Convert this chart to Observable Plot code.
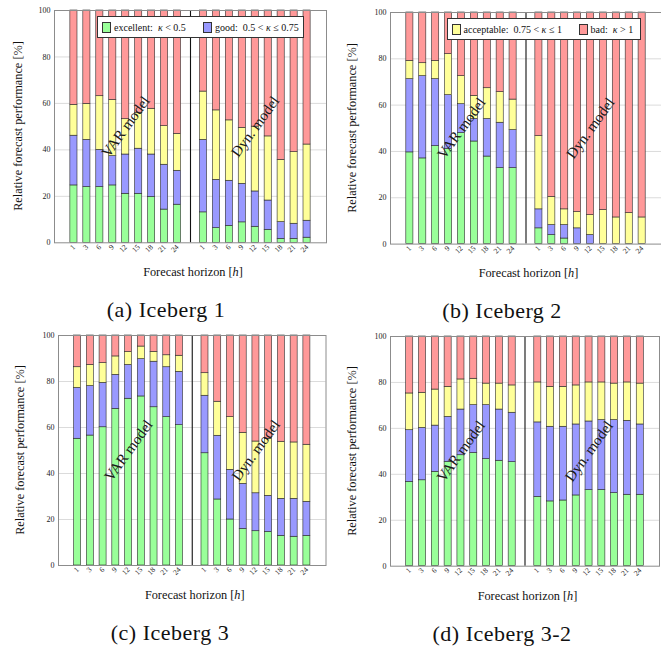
<!DOCTYPE html>
<html>
<head>
<meta charset="utf-8">
<script src="https://cdn.jsdelivr.net/npm/d3@7"></script>
<script src="https://cdn.jsdelivr.net/npm/@observablehq/plot@0.6"></script>
<style>
  html, body { margin: 0; padding: 0; background: #fff; }
  body { position: relative; width: 661px; height: 649px; overflow: hidden;
         font-family: "Liberation Serif", "Times New Roman", serif; color: #111; }
  .abs { position: absolute; white-space: nowrap; }
  .center { transform: translate(-50%, -50%); }
  .ylab { transform: translate(-50%, -50%) rotate(-90deg); font-size: 12.3px; }
  .xlab { font-size: 12.3px; }
  .cap { font-size: 22px; letter-spacing: 0.5px; }
  .legend { border: 1px solid #333; background: #fff; box-sizing: border-box;
            display: flex; align-items: center; font-size: 10px; padding-left: 4px; height: 22px; }
  .legend .sw { width: 9px; height: 11px; border: 1px solid #333; box-sizing: border-box; margin-right: 3px; flex: none; }
  .legend .item { display: flex; align-items: center; flex: none; }
  .legend .txt { white-space: pre; }
</style>
</head>
<body>
<script>
// Forecast horizons (hours) and performance classes
const horizons = ["1", "3", "6", "9", "12", "15", "18", "21", "24"];
const classes = ["excellent", "good", "acceptable", "bad"];
const classColors = ["#99ff99", "#9999ff", "#ffff99", "#ff9999"];
const classLabels = [
  "excellent:  <i>κ</i> &lt; 0.5",
  "good:  0.5 &lt; <i>κ</i> ≤ 0.75",
  "acceptable:  0.75 &lt; <i>κ</i> ≤ 1",
  "bad:  <i>κ</i> &gt; 1"
];

// Iceberg 1 — share of forecasts per class [%]
const ice1VarExcellent  = [24.7, 24.0, 24.0, 24.7, 21.1, 21.1, 19.7, 14.3, 16.4];
const ice1VarGood       = [21.4, 20.3, 16.0, 12.6, 16.9, 19.4, 18.3, 19.3, 14.6];
const ice1VarAcceptable = [13.3, 15.5, 23.1, 24.2, 15.2, 15.5, 19.7, 16.6, 15.9];
const ice1VarBad        = [40.6, 40.2, 36.9, 38.5, 46.8, 44.0, 42.3, 49.8, 53.1];
const ice1DynExcellent  = [13.1, 6.3, 7.3, 8.8, 6.9, 5.6, 1.7, 1.7, 2.2];
const ice1DynGood       = [31.2, 20.8, 19.4, 16.6, 15.2, 12.6, 7.2, 6.5, 7.3];
const ice1DynAcceptable = [20.8, 29.9, 26.0, 24.1, 27.9, 27.6, 26.8, 30.8, 32.8];
const ice1DynBad        = [34.9, 43.0, 47.3, 50.5, 50.0, 54.2, 64.3, 61.0, 57.7];

// Iceberg 2
const ice2VarExcellent  = [39.6, 37.0, 42.3, 41.0, 47.9, 44.3, 37.8, 32.8, 32.8];
const ice2VarGood       = [31.6, 35.5, 28.9, 23.3, 12.5, 9.7, 16.2, 19.6, 16.4];
const ice2VarAcceptable = [7.9, 5.6, 7.9, 17.7, 12.1, 10.0, 13.3, 13.2, 13.2];
const ice2VarBad        = [20.9, 21.9, 20.9, 18.0, 27.5, 36.0, 32.7, 34.4, 37.6];
const ice2DynExcellent  = [6.8, 3.9, 2.4, 0, 0, 0, 0, 0, 0];
const ice2DynGood       = [8.2, 4.3, 5.8, 6.8, 3.9, 0, 0, 0, 0];
const ice2DynAcceptable = [31.6, 12.2, 6.8, 7.0, 8.6, 14.7, 11.5, 13.4, 11.5];
const ice2DynBad        = [53.4, 79.6, 85.0, 86.2, 87.5, 85.3, 88.5, 86.6, 88.5];

// Iceberg 3
const ice3VarExcellent  = [55.1, 56.5, 60.1, 68.1, 72.5, 73.5, 68.8, 64.5, 61.0];
const ice3VarGood       = [22.1, 21.5, 19.3, 14.8, 14.7, 16.2, 19.8, 21.7, 23.2];
const ice3VarAcceptable = [9.0, 9.2, 8.6, 8.0, 5.6, 5.5, 4.3, 5.2, 7.0];
const ice3VarBad        = [13.8, 12.8, 12.0, 9.1, 7.2, 4.8, 7.1, 8.6, 8.8];
const ice3DynExcellent  = [48.8, 28.7, 20.0, 15.9, 14.9, 14.6, 12.9, 12.5, 12.9];
const ice3DynGood       = [25.0, 27.7, 21.6, 19.6, 16.5, 15.7, 16.1, 16.5, 14.8];
const ice3DynAcceptable = [9.8, 14.8, 22.9, 22.2, 22.5, 24.8, 24.8, 24.5, 24.8];
const ice3DynBad        = [16.4, 28.8, 35.5, 42.3, 46.1, 44.9, 46.2, 46.5, 47.5];

// Iceberg 3-2
const ice32VarExcellent  = [36.7, 37.4, 41.1, 45.4, 48.3, 49.3, 46.6, 45.9, 45.3];
const ice32VarGood       = [22.5, 22.8, 20.1, 19.6, 19.9, 20.8, 23.5, 22.3, 21.5];
const ice32VarAcceptable = [16.0, 15.3, 15.7, 13.1, 13.1, 11.5, 9.4, 11.3, 11.9];
const ice32VarBad        = [24.8, 24.5, 23.1, 21.9, 18.7, 18.4, 20.5, 20.5, 21.3];
const ice32DynExcellent  = [30.2, 28.2, 28.6, 30.8, 33.1, 33.2, 31.8, 31.1, 31.1];
const ice32DynGood       = [32.4, 32.5, 32.1, 30.9, 29.9, 30.4, 31.8, 32.2, 30.6];
const ice32DynAcceptable = [17.4, 17.4, 17.4, 17.0, 17.0, 16.4, 15.9, 16.7, 17.8];
const ice32DynBad        = [20.0, 21.9, 21.9, 21.3, 20.0, 20.0, 20.5, 20.0, 20.5];

// x slots: VAR horizons, a separator slot, Dyn. horizons
const slots = [...horizons.map(h => "VAR " + h), "gap", ...horizons.map(h => "Dyn " + h)];

function rowsFor(prefix, series) {
  return horizons.flatMap((h, i) =>
    classes.map((c, k) => ({slot: prefix + " " + h, cls: c, value: series[k][i]}))
  ).filter(d => d.value > 0);
}

const panels = [
  {caption: "(a) Iceberg 1", frame: [54, 10, 326, 242.3], yl: 18,
   legend: {items: [0, 1], x: 97, y: 16, w: 207, first: 101},
   var: [ice1VarExcellent, ice1VarGood, ice1VarAcceptable, ice1VarBad],
   dyn: [ice1DynExcellent, ice1DynGood, ice1DynAcceptable, ice1DynBad]},
  {caption: "(b) Iceberg 2", frame: [390, 11.7, 661, 243.3], yl: 352,
   legend: {items: [2, 3], x: 446.5, y: 18, w: 194, first: 127},
   var: [ice2VarExcellent, ice2VarGood, ice2VarAcceptable, ice2VarBad],
   dyn: [ice2DynExcellent, ice2DynGood, ice2DynAcceptable, ice2DynBad]},
  {caption: "(c) Iceberg 3", frame: [58, 335, 325.5, 565], yl: 20, legend: null,
   var: [ice3VarExcellent, ice3VarGood, ice3VarAcceptable, ice3VarBad],
   dyn: [ice3DynExcellent, ice3DynGood, ice3DynAcceptable, ice3DynBad]},
  {caption: "(d) Iceberg 3-2", frame: [390, 336.3, 659, 566], yl: 352, legend: null,
   var: [ice32VarExcellent, ice32VarGood, ice32VarAcceptable, ice32VarBad],
   dyn: [ice32DynExcellent, ice32DynGood, ice32DynAcceptable, ice32DynBad]}
];

function addDiv(cls, html, x, y) {
  const d = document.createElement("div");
  d.className = "abs " + cls;
  d.innerHTML = html;
  d.style.left = x + "px";
  d.style.top = y + "px";
  document.body.appendChild(d);
  return d;
}

for (const p of panels) {
  const [x0, y0, x1, y1] = p.frame;
  const left = x0 - 54, top = y0 - 10;
  const rows = [...rowsFor("VAR", p.var), ...rowsFor("Dyn", p.dyn)];

  const chart = Plot.plot({
    width: x1 - left + 2,
    height: y1 - top + 30,
    marginLeft: 54,
    marginRight: 2,
    marginTop: 10,
    marginBottom: 30,
    style: {fontFamily: "Liberation Serif, serif", color: "#222", background: "transparent", overflow: "visible"},
    x: {type: "band", domain: slots, paddingInner: 0.45, paddingOuter: 1.225, round: false},
    y: {domain: [0, 100]},
    color: {domain: classes, range: classColors},
    marks: [
      Plot.gridY([20, 40, 60, 80], {stroke: "#d2d2d2", strokeOpacity: 1, strokeWidth: 0.8}),
      Plot.barY(rows, {x: "slot", y: "value", fill: "cls", stroke: "#2b2b2b", strokeWidth: 0.6}),
      Plot.ruleX(["gap"], {stroke: "#111", strokeWidth: 1.1}),
      Plot.text([{slot: "VAR 12", t: "VAR model"}, {slot: "Dyn 12", t: "Dyn. model"}],
        {x: "slot", y: () => 50, text: "t", rotate: -54, fontSize: 15, fill: "#1a1a1a"}),
      Plot.axisY({ticks: [0, 20, 40, 60, 80, 100], tickSize: 0, tickPadding: 4, label: null, fontSize: 8}),
      Plot.axisX({tickRotate: -45, tickSize: 0, tickPadding: 3, label: null, fontSize: 7.5,
        tickFormat: s => s === "gap" ? "" : s.split(" ")[1]}),
      Plot.frame({stroke: "#8c8c8c", strokeWidth: 1})
    ]
  });
  chart.style.position = "absolute";
  chart.style.left = left + "px";
  chart.style.top = top + "px";
  document.body.appendChild(chart);

  const cx = (x0 + x1) / 2;
  addDiv("ylab", "Relative forecast performance [%]", p.yl, (y0 + y1) / 2);
  addDiv("xlab center", "Forecast horizon [<i>h</i>]", cx + 3, y1 + 30);
  addDiv("cap center", p.caption, x0 + 112, y1 + 68);

  if (p.legend) {
    const L = p.legend;
    const lg = addDiv("legend", L.items.map((k, j) =>
      `<span class="item" style="${j === 0 ? `width:${L.first}px` : ""}"><span class="sw" style="background:${classColors[k]}"></span><span class="txt">${classLabels[k]}</span></span>`
    ).join(""), L.x, L.y);
    lg.style.width = L.w + "px";
  }
}
</script>
</body>
</html>
